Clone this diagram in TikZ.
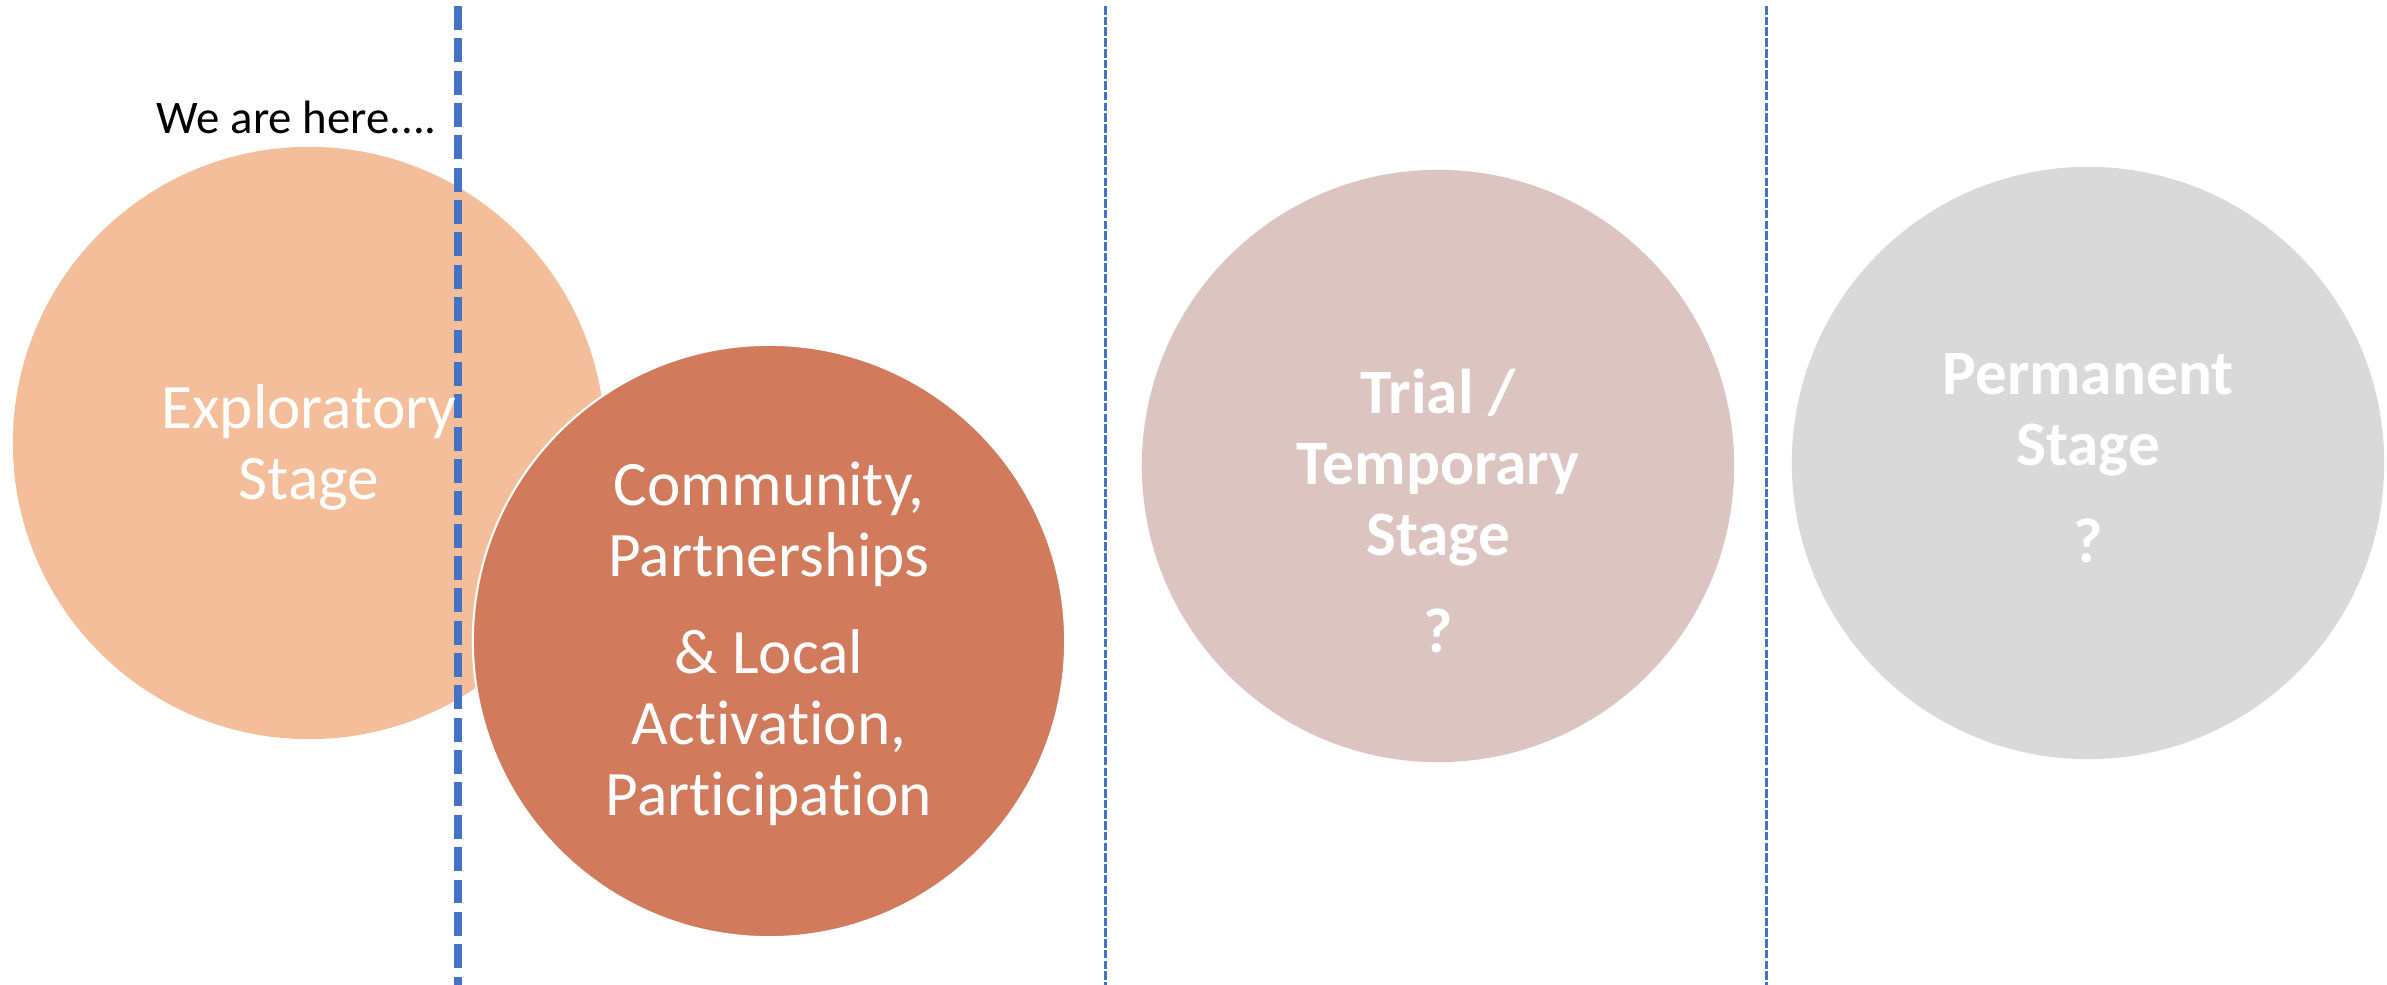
\documentclass[tikz,border=0pt]{standalone}
\usepackage{fontspec}
\setmainfont{Carlito}[Ligatures=NoCommon]
\definecolor{exploreorange}{RGB}{244,190,154}
\definecolor{communityred}{RGB}{209,122,92}
\definecolor{trialpink}{RGB}{220,196,193}
\definecolor{permgrey}{RGB}{217,217,217}
\definecolor{sepblue}{RGB}{68,114,196}
\begin{document}
\begin{tikzpicture}[x=0.01cm,y=-0.01cm,
        stage/.style={circle,inner sep=0pt,minimum size=5.92cm},
        stagetext/.style={text=white,align=center,font=\fontsize{18pt}{20.2pt}\selectfont},
        thicksep/.style={draw=sepblue,line width=2.3pt,dash pattern=on 6.8pt off 2.4pt},
        thinsep/.style={draw=sepblue,line width=0.85pt,dash pattern=on 2.45pt off 0.6pt}]
        \useasboundingbox (0,0) rectangle (2387,985);
        %% stage circles
        \node[stage,fill=exploreorange] (explore) at (309,443) {};
        \node[stage,fill=communityred,draw=white,line width=0.6pt] (community) at (769,641) {};
        \node[stage,fill=trialpink] (trial) at (1438,466) {};
        \node[stage,fill=permgrey] (permanent) at (2088,463) {};
        %% separators
        \coordinate (sep1 top) at (458,6);
        \coordinate (sep1 bottom) at (458,985);
        \coordinate (sep2 top) at (1105,6);
        \coordinate (sep2 bottom) at (1105,985);
        \coordinate (sep3 top) at (1766,6);
        \coordinate (sep3 bottom) at (1766,985);
        \draw[thicksep] (sep1 top) -- (sep1 bottom);
        \draw[thinsep] (sep2 top) -- (sep2 bottom);
        \draw[thinsep] (sep3 top) -- (sep3 bottom);
        %% labels
        \node[anchor=base east,font=\fontsize{13.3pt}{16pt}\selectfont] (here) at (449,134) {We are here....};
        \node[stagetext] (explore label) at (309,447) {Exploratory\\Stage};
        \node[stagetext] (community label) at (769,644) {Community,\\Partnerships\\[7.5pt] \& Local\\Activation,\\Participation};
        \node[stagetext,font=\bfseries\fontsize{18pt}{20.2pt}\selectfont] (trial label) at (1438,511) {Trial /\\Temporary\\Stage\\[7.5pt] ?};
        \node[stagetext,font=\bfseries\fontsize{18pt}{20.2pt}\selectfont] (permanent label) at (2088,458) {Permanent\\Stage\\[7.5pt] ?};
\end{tikzpicture}
\end{document}
